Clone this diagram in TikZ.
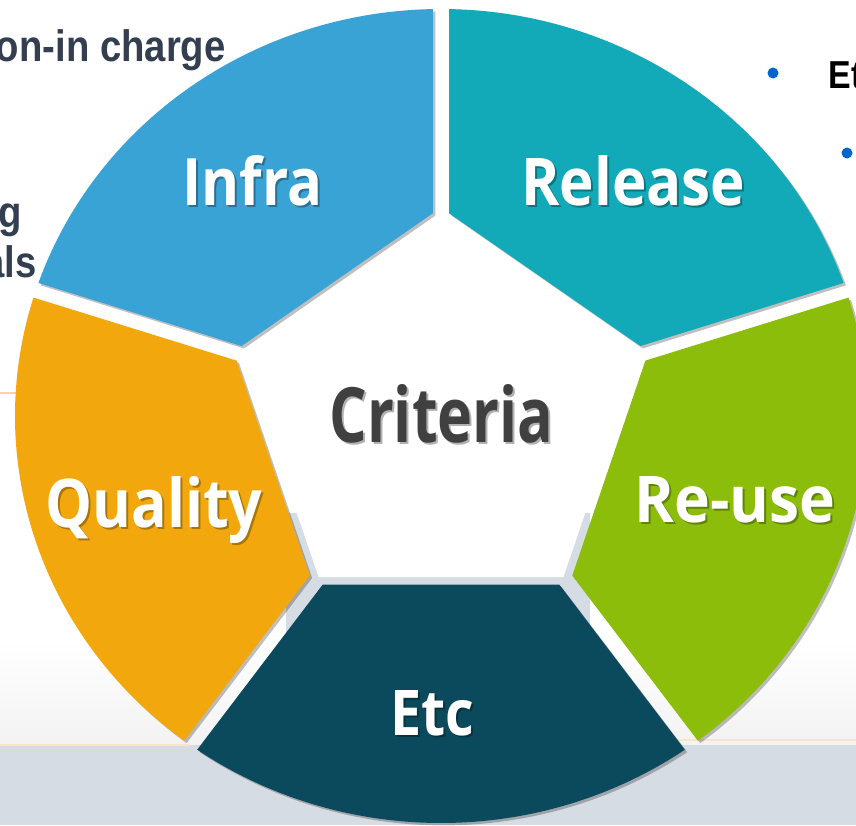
\documentclass[tikz,border=0pt]{standalone}
\usepackage{fontspec}
\usepackage{graphicx}
\setmainfont{Liberation Sans}
\newfontfamily\lblfont{Open Sans}
\usetikzlibrary{calc,shadows}
\newlength\pxu \setlength\pxu{0.5pt}
\definecolor{infraC}{HTML}{3AA3D6}
\definecolor{releaseC}{HTML}{12AAB8}
\definecolor{reuseC}{HTML}{8CBD0A}
\definecolor{etcC}{HTML}{0B4A5C}
\definecolor{qualityC}{HTML}{F2A80C}
\definecolor{critC}{HTML}{404040}
\definecolor{navyC}{HTML}{333F50}
\definecolor{panelC}{HTML}{D6DCE4}
\definecolor{lineC}{HTML}{FBE3C6}
\definecolor{bulletC}{HTML}{0066CC}
\newcommand{\ri}{0.512}
\newcommand{\rw}{0.489}
\newcommand{\seg}[2]{% start angle, colour
  \path[segstyle, fill=#2] (#1+1.08:1) arc[start angle=#1+1.08, end angle=#1+70.92, x radius=1, y radius=1]
    -- ($(#1+72:\ri)!0.0386!(#1:\ri)$) -- ($(#1:\ri)!0.0386!(#1+72:\ri)$) -- cycle;}
\newcommand{\rlabel}[7]{% name, x, baseline y, width, height, text, colour
  \node[anchor=base west, inner sep=0, text=black, opacity=0.3] (#1s) at (#2+2,#3+2) {\resizebox{#4\pxu}{#5\pxu}{\lblfont\bfseries #6}};
  \node[anchor=base west, inner sep=0, text=#7] (#1) at (#2,#3) {\resizebox{#4\pxu}{#5\pxu}{\lblfont\bfseries #6}};}
\tikzset{
  segstyle/.style={drop shadow={shadow xshift=1.2pt, shadow yshift=-1.2pt, opacity=0.25, fill=black}},
  slidetext/.style={inner sep=0, text=navyC, font=\fontsize{22}{22}\selectfont\bfseries},
  bulletdot/.style={circle, fill=bulletC, inner sep=0, minimum size=5.5pt}
}
\begin{document}
\begin{tikzpicture}[x=0.5pt,y=-0.5pt]
\useasboundingbox (0,0) rectangle (856,825);
\clip (0,0) rectangle (856,825);
\fill[white] (0,0) rectangle (856,825);
% soft background
\shade[top color=white, bottom color=black!5!white] (0,640) rectangle (856,745);
\fill[panelC] (286,513) rectangle (590,745);
\fill[panelC] (0,745) rectangle (856,825);
\draw[lineC, line width=1.2pt] (0,745) -- (190,745);
\draw[lineC, line width=1.2pt] (675,740) -- (856,740);
\draw[orange!35!white, line width=0.6pt] (0,393) -- (20,393);
% slide text fragments
\node[slidetext, anchor=base east] (t1) at (226,61) {\scalebox{0.87}[1]{on-in charge}};
\node[slidetext, anchor=base east] (t2) at (22,227) {\scalebox{0.87}[1]{g}};
\node[slidetext, anchor=base east] (t3) at (37,277) {\scalebox{0.87}[1]{als}};
\node[bulletdot] (b1) at (773,73) {};
\node[bulletdot] (b2) at (847,153) {};
\node[anchor=base west, inner sep=0, text=black, font=\fontsize{19.5}{20}\selectfont\bfseries] (t4) at (828,88) {\scalebox{0.87}[1]{Et}};
% ring
\begin{scope}[shift={(441,416)}, x=213pt, y=203.5pt]
  \fill[white] (90:\rw) -- (162:\rw) -- (234:\rw) -- (306:\rw) -- (18:\rw) -- cycle;
  \seg{18}{releaseC}
  \seg{90}{infraC}
  \seg{162}{qualityC}
  \seg{234}{etcC}
  \seg{306}{reuseC}
\end{scope}
% labels
\rlabel{infra}{182}{205}{140}{50}{Infra}{white}
\rlabel{release}{521}{205}{224}{50}{Release}{white}
\rlabel{quality}{45}{527}{217}{51}{Quality}{white}
\rlabel{reuse}{634}{522}{201}{46}{Re-use}{white}
\rlabel{etc}{390}{735}{84}{45}{Etc}{white}
\rlabel{crit}{329}{442}{224}{58}{Criteria}{critC}
\end{tikzpicture}
\end{document}
